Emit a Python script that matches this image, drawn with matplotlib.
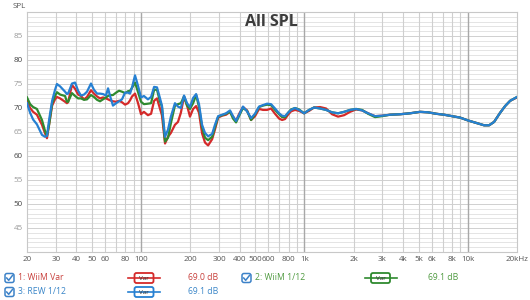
import matplotlib
matplotlib.use("Agg")
import matplotlib.pyplot as plt
from matplotlib.patches import FancyBboxPatch
from matplotlib.lines import Line2D
from matplotlib.transforms import Affine2D

plt.rcParams["font.family"] = ["Open Sans", "DejaVu Sans"]

# frequency (Hz) and SPL (dB)
freqs = [20, 20.9, 21.8, 23.0, 24.7, 25.8, 26.5, 27.3, 28.5, 29.7, 30.5, 31.9, 34.2, 35.1,
         35.7, 37.7, 39.4, 41.1, 42.8, 44.7, 46.6, 49.3, 51.4, 53.7, 56.0, 58.4, 60.9, 62.7,
         64.5, 67.2, 70.2, 73.2, 76.3, 79.7, 83.1, 85.5, 87.9, 91.7, 95.7, 99.8, 104, 110,
         115, 120, 125, 130, 134, 140, 146, 152, 161, 168, 175, 183, 191, 199, 208, 217,
         226, 236, 246, 257, 272, 283, 296, 313, 331, 350, 365, 381, 397, 420, 445, 471,
         498, 527, 557, 590, 624, 660, 699, 729, 760, 793, 827, 875, 926, 994, 1067, 1144,
         1245, 1355, 1475, 1605, 1747, 1901, 2069, 2252, 2450, 2704, 2984, 3342, 3848, 4430,
         5100, 5710, 6393, 7157, 8012, 8966, 10038, 11236, 12576, 13497, 14480, 15764, 16913,
         18154, 20000]

wiim_var = [71.5, 70.0, 69.2, 68.6, 66.5, 64.7, 63.7, 66.5, 70.5, 71.8, 72.3, 72.0, 71.3, 71.0,
            71.2, 74.8, 74.0, 72.8, 72.5, 71.8, 72.3, 73.7, 73.0, 72.4, 72.0, 72.2, 72.0, 71.8,
            71.6, 71.4, 71.3, 71.5, 71.2, 70.7, 71.0, 71.6, 72.4, 73.0, 71.0, 68.7, 69.2, 68.5,
            68.8, 71.5, 72.0, 70.0, 68.5, 62.6, 64.0, 64.8, 66.5, 67.1, 69.0, 72.4, 70.5, 68.2,
            69.8, 70.4, 69.0, 64.7, 62.8, 62.2, 63.5, 65.5, 68.0, 68.4, 68.6, 69.2, 68.2, 67.3,
            68.7, 70.2, 69.5, 67.5, 68.3, 69.8, 69.6, 69.6, 69.9, 68.8, 67.8, 67.5, 67.7, 68.6,
            69.3, 69.6, 69.4, 68.9, 69.4, 70.1, 70.2, 69.9, 68.7, 68.2, 68.5, 69.2, 69.7, 69.5,
            68.9, 68.3, 68.4, 68.6, 68.7, 68.9, 69.2, 69.1, 68.8, 68.6, 68.3, 68.0, 67.4, 66.9,
            66.4, 66.4, 67.1, 69.0, 70.4, 71.5, 72.2]

wiim_1_12 = [72.2, 70.8, 70.2, 69.8, 67.5, 65.2, 64.2, 66.5, 71.0, 72.5, 73.3, 72.8, 72.5, 71.3,
             71.3, 73.1, 72.5, 72.0, 72.0, 71.7, 71.8, 72.7, 72.3, 71.7, 71.4, 71.8, 72.2, 72.5,
             72.7, 72.7, 73.2, 73.6, 73.4, 73.1, 73.5, 73.6, 74.2, 75.3, 73.3, 71.3, 70.8, 70.9,
             71.0, 73.8, 73.8, 71.5, 70.3, 63.0, 63.8, 66.8, 70.5, 70.8, 71.0, 72.4, 70.5, 69.8,
             71.0, 72.7, 70.2, 66.0, 63.8, 63.3, 64.0, 66.0, 68.2, 68.5, 68.8, 69.2, 67.8, 67.0,
             68.3, 70.0, 69.4, 67.5, 68.7, 70.2, 70.5, 70.7, 70.6, 69.6, 68.7, 68.1, 68.1, 69.0,
             69.7, 70.0, 69.7, 68.9, 69.6, 70.1, 69.9, 69.6, 69.1, 68.9, 69.2, 69.6, 69.8, 69.6,
             68.8, 68.1, 68.3, 68.6, 68.7, 68.9, 69.2, 69.1, 68.8, 68.6, 68.3, 68.0, 67.4, 66.9,
             66.4, 66.4, 67.1, 69.0, 70.4, 71.5, 72.3]

rew_1_12 = [71.0, 69.0, 67.6, 66.6, 64.4, 64.0, 64.2, 67.5, 71.5, 73.8, 75.0, 74.5, 73.4, 72.9,
            73.0, 75.1, 75.3, 73.6, 72.6, 72.8, 73.4, 75.1, 73.8, 73.0, 73.0, 72.9, 72.6, 74.1,
            72.5, 70.5, 71.0, 71.4, 71.8, 73.2, 73.2, 73.0, 74.3, 76.8, 74.6, 72.2, 72.5, 71.8,
            72.3, 74.4, 74.3, 72.2, 70.5, 64.0, 65.5, 68.2, 71.0, 70.3, 70.0, 72.6, 71.0, 70.2,
            72.1, 72.9, 70.8, 66.5, 64.8, 64.1, 64.6, 66.5, 68.3, 68.6, 68.9, 69.5, 68.3, 67.3,
            68.5, 70.3, 69.3, 67.9, 68.8, 70.3, 70.6, 70.9, 70.8, 69.9, 68.9, 68.4, 68.3, 69.0,
            69.6, 70.0, 69.6, 68.9, 69.6, 70.1, 69.9, 69.6, 69.1, 68.9, 69.2, 69.6, 69.8, 69.5,
            68.9, 68.3, 68.4, 68.6, 68.7, 68.9, 69.2, 69.1, 68.8, 68.6, 68.3, 68.0, 67.4, 66.9,
            66.4, 66.4, 67.1, 69.0, 70.4, 71.5, 72.3]

x_ticks = [20, 30, 40, 50, 60, 80, 100, 200, 300, 400, 500, 600, 800,
           1000, 2000, 3000, 4000, 5000, 6000, 8000, 10000, 20000]
x_labels = ["20", "30", "40", "50", "60", "80", "100", "200", "300", "400", "500", "600", "800",
            "1k", "2k", "3k", "4k", "5k", "6k", "8k", "10k", "20kHz"]
y_ticks = [45, 50, 55, 60, 65, 70, 75, 80, 85]

series = [
    ("1: WiiM Var", wiim_var, "#d42a2a", "#c8403c", "69.0 dB"),
    ("2: WiiM 1/12", wiim_1_12, "#2f8a2f", "#4f9a40", "69.1 dB"),
    ("3: REW 1/12", rew_1_12, "#2680d2", "#3a86c8", "69.1 dB"),
]

W, H = 530, 300
fig = plt.figure(figsize=(W / 100, H / 100), dpi=100)
ax = fig.add_axes([27 / W, 1 - 252 / H, 490 / W, 240 / H])
ax.set_xscale("log")
ax.set_xlim(20, 20000)
ax.set_ylim(40, 90)

# grid: every 1 dB, every 1-9 multiple of a decade
for db in range(41, 90):
    ax.axhline(db, color="#d0d0d0" if db % 5 == 0 else "#e4e4e4", lw=0.7, zorder=0)
for dec in (10, 100, 1000, 10000):
    for m in range(1, 10):
        f = dec * m
        if 20 < f < 20000:
            dark = m == 1
            ax.axvline(f, color="#a8a8a8" if dark else "#cfcfcf", lw=1.0 if dark else 0.8, zorder=0)

for name, vals, col, _, _ in series:
    ax.plot(freqs, vals, color=col, lw=1.6, zorder=3, solid_joinstyle="round")

ax.set_xticks(x_ticks)
ax.set_xticklabels(x_labels)
ax.xaxis.set_minor_locator(matplotlib.ticker.NullLocator())
ax.set_yticks(y_ticks)
ax.set_yticklabels([str(v) for v in y_ticks])
ax.tick_params(length=0, labelsize=5.8, pad=3)
for lab in ax.get_xticklabels():
    lab.set_color("#555555")
for v, lab in zip(y_ticks, ax.get_yticklabels()):
    lab.set_color("#444444" if v % 10 == 0 else "#999999")
for s in ax.spines.values():
    s.set_color("#c8c8c8")
    s.set_linewidth(0.8)

fig.text(271 / W, 1 - 22 / H, "All SPL", ha="center", va="center",
         fontsize=11.5, fontweight="bold", color="#3c3c3c")
fig.text(13 / W, 1 - 6 / H, "SPL", ha="left", va="center", fontsize=5.8, color="#555555")

# legend strip below the plot, drawn in pixel coordinates
px = Affine2D().scale(1 / 100, -1 / 100).translate(0, H / 100) + fig.dpi_scale_trans


def checkbox(x, y):
    fig.add_artist(FancyBboxPatch((x - 4.5, y - 4.5), 9, 9, boxstyle="round,pad=0,rounding_size=2",
                                  fc="white", ec="#3c82c8", lw=1.1, transform=px))
    fig.add_artist(Line2D([x - 2.8, x - 0.8, x + 3], [y, y + 2.3, y - 2.6], color="#3c82c8",
                          lw=1.1, transform=px))


def var_symbol(xc, y, col):
    fig.add_artist(Line2D([xc - 16, xc + 16], [y, y], color=col, lw=1.2, transform=px))
    fig.add_artist(FancyBboxPatch((xc - 9.5, y - 5), 19, 10, boxstyle="round,pad=0,rounding_size=2",
                                  fc="white", ec=col, lw=1.3, transform=px))
    fig.text(xc, y, "Var", transform=px, ha="center", va="center", fontsize=4.5, color="#333333")


layout = [(9.5, 278, 18, 144, 188), (246.5, 278, 255, 380.5, 428), (9.5, 292, 18, 144, 188)]
for (name, _, col, tcol, lvl), (cx, cy, tx, vx, lx) in zip(series, layout):
    checkbox(cx, cy)
    fig.text(tx, cy, name, transform=px, ha="left", va="center", fontsize=6.2, color=tcol)
    var_symbol(vx, cy, col)
    fig.text(lx, cy, lvl, transform=px, ha="left", va="center", fontsize=6.2, color=tcol)

fig.savefig("out.png", dpi=100)
